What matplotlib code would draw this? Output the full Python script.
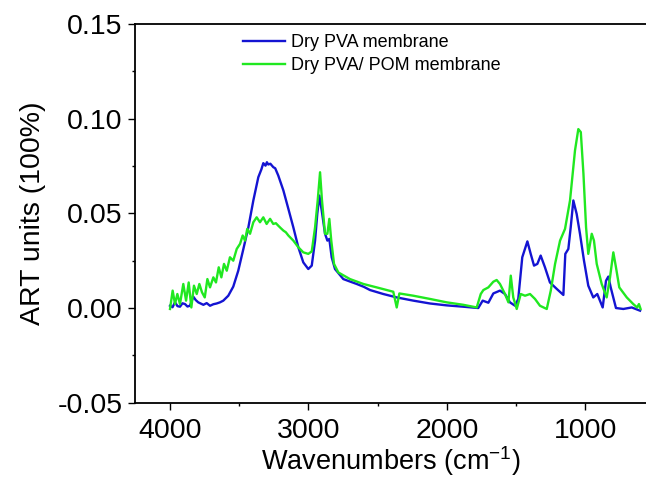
import matplotlib
matplotlib.use("Agg")
import matplotlib.pyplot as plt
from matplotlib.ticker import MultipleLocator, FormatStrFormatter

plt.rcParams['font.family'] = ['Liberation Sans', 'DejaVu Sans']
plt.rcParams['mathtext.fontset'] = 'custom'
plt.rcParams['mathtext.rm'] = 'Liberation Sans'
plt.rcParams['mathtext.it'] = 'Liberation Sans'

# FTIR-ATR spectrum of the dry PVA membrane
pva_wavenumber = [4000, 3982, 3964, 3946, 3928, 3910, 3892, 3874, 3856, 3832,
                  3814, 3796, 3759, 3735, 3711, 3687, 3663, 3639, 3615, 3579,
                  3543, 3507, 3470, 3434, 3398, 3362, 3340, 3326, 3310, 3300,
                  3290, 3275, 3254, 3240, 3218, 3181, 3145, 3109, 3073, 3037,
                  3001, 2976, 2952, 2936, 2921, 2904, 2880, 2863, 2849, 2832,
                  2808, 2748, 2700, 2651, 2600, 2555, 2459, 2362, 2242, 2122,
                  2001, 1881, 1773, 1741, 1700, 1664, 1616, 1580, 1544, 1507,
                  1484, 1455, 1418, 1394, 1370, 1346, 1322, 1291, 1255, 1206,
                  1158, 1144, 1122, 1105, 1086, 1062, 1038, 1009, 978, 942,
                  913, 874, 850, 833, 816, 778, 725, 664, 604]
pva_absorbance = [0.0012, 0.0004, 0.0030, 0.0010, 0.0007, 0.0025, 0.0021, 0.0008, 0.0012, 0.0060,
                  0.0042, 0.0030, 0.0017, 0.0026, 0.0012, 0.0020, 0.0024, 0.0030, 0.0039, 0.0065,
                  0.0113, 0.0197, 0.0312, 0.0426, 0.0568, 0.0691, 0.0732, 0.0765, 0.0752, 0.0770,
                  0.0758, 0.0762, 0.0744, 0.0738, 0.0700, 0.0621, 0.0524, 0.0426, 0.0321, 0.0241,
                  0.0206, 0.0224, 0.0356, 0.0497, 0.0594, 0.0515, 0.0392, 0.0356, 0.0365, 0.0268,
                  0.0206, 0.0153, 0.0140, 0.0127, 0.0112, 0.0095, 0.0074, 0.0056, 0.0039, 0.0024,
                  0.0014, 0.0007, 0.0000, 0.0039, 0.0028, 0.0077, 0.0092, 0.0074, 0.0030, 0.0012,
                  0.0048, 0.0268, 0.0352, 0.0286, 0.0224, 0.0233, 0.0277, 0.0215, 0.0135, 0.0101,
                  0.0069, 0.0286, 0.0312, 0.0426, 0.0568, 0.0497, 0.0392, 0.0250, 0.0118, 0.0056,
                  0.0074, 0.0003, 0.0144, 0.0166, 0.0109, 0.0000, -0.0005, 0.0003, -0.0014]

# FTIR-ATR spectrum of the dry PVA/POM composite membrane
pom_wavenumber = [4000, 3981, 3964, 3947, 3928, 3904, 3884, 3865, 3846, 3827,
                  3807, 3788, 3769, 3749, 3730, 3711, 3687, 3668, 3648, 3629,
                  3610, 3590, 3567, 3543, 3518, 3494, 3475, 3458, 3442, 3422,
                  3398, 3374, 3350, 3326, 3302, 3277, 3254, 3235, 3218, 3200,
                  3181, 3163, 3145, 3109, 3073, 3037, 3001, 2976, 2952, 2933,
                  2916, 2902, 2880, 2863, 2849, 2835, 2815, 2784, 2700, 2603,
                  2507, 2387, 2362, 2343, 2242, 2122, 2001, 1881, 1784, 1755,
                  1736, 1700, 1664, 1640, 1616, 1580, 1555, 1538, 1520, 1495,
                  1466, 1435, 1399, 1363, 1327, 1278, 1249, 1218, 1182, 1146,
                  1110, 1074, 1050, 1032, 1013, 994, 978, 953, 937, 917,
                  881, 845, 821, 797, 778, 754, 700, 653, 625, 612,
                  600]
pom_absorbance = [-0.0005, 0.0092, 0.0021, 0.0074, 0.0021, 0.0127, 0.0039, 0.0135, 0.0003, 0.0118,
                  0.0074, 0.0127, 0.0083, 0.0056, 0.0153, 0.0109, 0.0162, 0.0135, 0.0215, 0.0162,
                  0.0233, 0.0197, 0.0268, 0.0250, 0.0312, 0.0339, 0.0383, 0.0356, 0.0418, 0.0392,
                  0.0453, 0.0479, 0.0453, 0.0479, 0.0444, 0.0471, 0.0444, 0.0448, 0.0435, 0.0422,
                  0.0409, 0.0400, 0.0383, 0.0356, 0.0321, 0.0294, 0.0286, 0.0299, 0.0426, 0.0568,
                  0.0717, 0.0568, 0.0392, 0.0392, 0.0471, 0.0356, 0.0233, 0.0188, 0.0153, 0.0127,
                  0.0109, 0.0086, 0.0003, 0.0077, 0.0065, 0.0048, 0.0030, 0.0017, 0.0003, 0.0074,
                  0.0095, 0.0109, 0.0139, 0.0148, 0.0127, 0.0074, 0.0030, 0.0171, 0.0056, -0.0005,
                  0.0074, 0.0065, 0.0074, 0.0048, 0.0012, -0.0005, 0.0092, 0.0233, 0.0356, 0.0418,
                  0.0568, 0.0832, 0.0945, 0.0929, 0.0709, 0.0426, 0.0286, 0.0392, 0.0356, 0.0233,
                  0.0127, 0.0056, 0.0162, 0.0294, 0.0215, 0.0109, 0.0056, 0.0021, 0.0003, 0.0021,
                  -0.0005]

series_labels = ["Dry PVA membrane", "Dry PVA/ POM membrane"]
series_colors = ["#1414d2", "#20e820"]

W, H = 646, 479
fig = plt.figure(figsize=(W / 100, H / 100), dpi=100)
ax = fig.add_axes([135 / W, (H - 402.7) / H, (W - 135) / W, (402.7 - 24) / H])

ax.plot(pva_wavenumber, pva_absorbance, color=series_colors[0], lw=1.7,
        label=series_labels[0])
ax.plot(pom_wavenumber, pom_absorbance, color=series_colors[1], lw=1.7,
        label=series_labels[1])

ax.set_xlim(4253, 561)
ax.set_ylim(-0.05, 0.15)
ax.xaxis.set_major_locator(MultipleLocator(1000))
ax.xaxis.set_minor_locator(MultipleLocator(500))
ax.yaxis.set_major_locator(MultipleLocator(0.05))
ax.yaxis.set_minor_locator(MultipleLocator(0.025))
ax.yaxis.set_major_formatter(FormatStrFormatter('%.2f'))

for side in ("left", "bottom", "top"):
    ax.spines[side].set_linewidth(1.3)
ax.spines["right"].set_visible(False)

ax.tick_params(which="major", direction="out", length=5, width=1.0,
               labelsize=20.5)
ax.tick_params(axis="y", which="major", pad=4)
ax.tick_params(axis="x", which="major", pad=6)
ax.tick_params(which="minor", direction="out", length=2.5, width=1.0)
ax.tick_params(axis="x", which="both", top=False)

ax.set_xlabel("Wavenumbers (cm$^{-1}$)", fontsize=19.5, labelpad=0)
ax.set_ylabel("ART units (100%)", fontsize=20.5, labelpad=8)

ax.legend(loc="upper left", bbox_to_anchor=(243 / W, 1 - 34 / H),
          bbox_transform=fig.transFigure, frameon=False, fontsize=13,
          handlelength=2.33, handletextpad=0.33, labelspacing=0.35,
          borderpad=0, borderaxespad=0)

fig.savefig("out.png", dpi=100)
